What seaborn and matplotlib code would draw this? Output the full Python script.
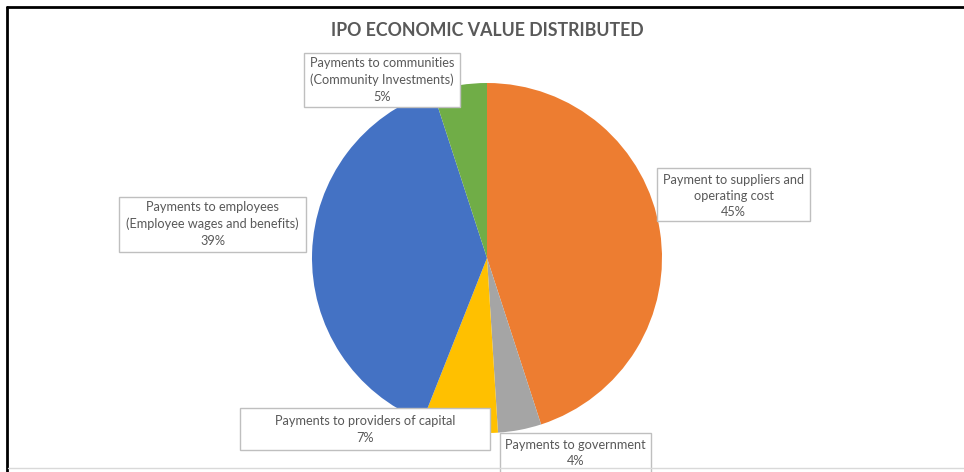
import matplotlib
matplotlib.use('Agg')
import matplotlib.pyplot as plt
from matplotlib.patches import Rectangle
import seaborn as sns

sns.set_style('white')
plt.rcParams['font.family'] = ['Lato', 'DejaVu Sans']

categories = [
    'Payment to suppliers and\noperating cost',
    'Payments to government',
    'Payments to providers of capital',
    'Payments to employees\n(Employee wages and benefits)',
    'Payments to communities\n(Community Investments)',
]
shares = [45, 4, 7, 39, 5]
colors = ['#ED7D31', '#A5A5A5', '#FFC000', '#4472C4', '#70AD47']

W, H = 964, 472
fig = plt.figure(figsize=(W / 100, H / 100), dpi=100)
ax = fig.add_axes([0, 0, 1, 1])

ax.pie(shares, colors=colors, startangle=90, counterclock=False,
       center=(487, H - 258), radius=175,
       wedgeprops={'linewidth': 0})

# label boxes like the original: (left, top, right, bottom) in pixels from top-left
boxes = [(657, 168, 810, 221), (500, 433, 651, 474), (240, 408, 490, 450),
         (119, 197, 306, 252), (304, 53, 460, 107)]
text_y = [196, 453, 429.5, 224, 80]
for cat, val, (x0, y0, x1, y1), ty in zip(categories, shares, boxes, text_y):
    ax.add_patch(Rectangle((x0, H - y1), x1 - x0, y1 - y0, fc='white',
                           ec='#BFBFBF', lw=1, zorder=3))
    ax.text((x0 + x1) / 2, H - ty, f'{cat}\n{val}%', ha='center', va='center',
            fontsize=9.2, color='#595959', linespacing=1.45, zorder=4)

ax.text(487, H - 30, 'IPO ECONOMIC VALUE DISTRIBUTED', ha='center', va='center',
        fontsize=12.8, fontweight='bold', color='#595959')

# frame lines
ax.plot([7, W], [H - 7, H - 7], color='black', lw=2)
ax.plot([7, 7], [H - 7, 0], color='black', lw=2)
ax.plot([8, W], [H - 468, H - 468], color='#D9D9D9', lw=1, zorder=5)

ax.set_xlim(0, W)
ax.set_ylim(0, H)
ax.set_aspect('auto')
ax.axis('off')

fig.savefig('out.png', dpi=100)
